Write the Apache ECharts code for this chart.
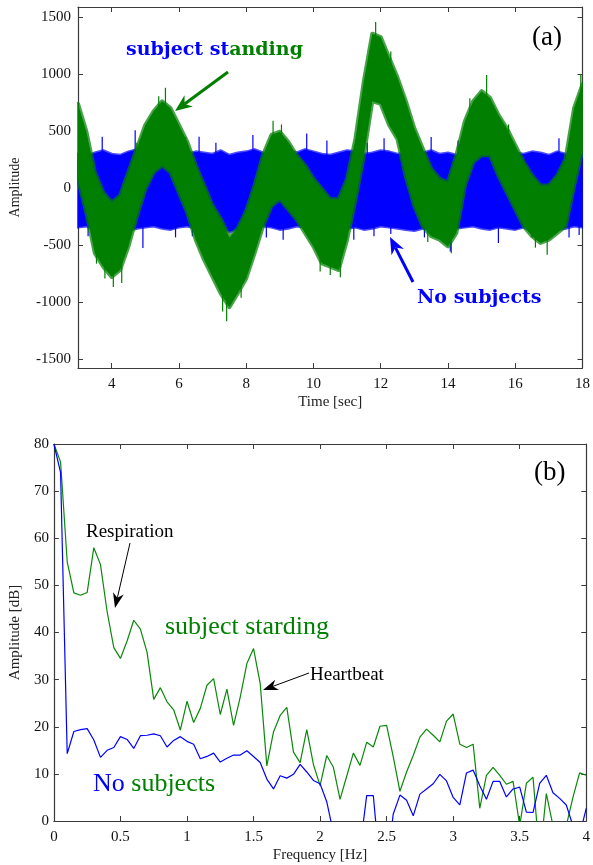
<!DOCTYPE html>
<html>
<head>
<meta charset="utf-8">
<script src="https://cdn.jsdelivr.net/npm/echarts@6/dist/echarts.min.js"></script>
<style>
  html, body { margin: 0; padding: 0; background: #fff; }
  #main { width: 593px; height: 865px; }
</style>
</head>
<body>
<div id="main"></div>
<script>
// (a) time signal, envelopes every 0.25 s
var timeSec = [3, 3.25, 3.5, 3.75, 4, 4.25, 4.5, 4.75, 5, 5.25, 5.5, 5.75, 6, 6.25, 6.5, 6.75, 7, 7.25, 7.5, 7.75,
  8, 8.25, 8.5, 8.75, 9, 9.25, 9.5, 9.75, 10, 10.25, 10.5, 10.75, 11, 11.25, 11.5, 11.75, 12, 12.25, 12.5, 12.75,
  13, 13.25, 13.5, 13.75, 14, 14.25, 14.5, 14.75, 15, 15.25, 15.5, 15.75, 16, 16.25, 16.5, 16.75, 17, 17.25, 17.5, 17.75, 18]
var greenUpper = [740, 497, 142, -36, -124, -65, 142, 349, 556, 675, 763, 704, 556, 408, 201, 24, -154, -272, -430, -350,
  -200, 24, 290, 468, 497, 408, 290, 201, 83, -6, -95, -95, 83, 438, 941, 1356, 1326, 1148, 971, 763,
  527, 349, 172, 83, 53, 290, 586, 763, 852, 793, 645, 527, 379, 231, 112, 24, 24, 112, 260, 704, 912]
var greenLower = [80, -213, -568, -687, -776, -716, -509, -243, -6, 142, 201, 142, -36, -213, -450, -627, -776, -924, -1042, -920,
  -790, -568, -331, -154, -95, -183, -272, -391, -509, -657, -687, -716, -450, -95, 290, 764, 740, 556, 430, 100,
  -154, -331, -420, -450, -509, -391, 24, 231, 290, 290, 112, -36, -183, -331, -420, -479, -450, -391, -331, 24, 349]
var blueUpper = [300, 280, 310, 330, 300, 290, 320, 340, 310, 300, 290, 320, 330, 300, 320, 310, 300, 330, 290, 310,
  320, 340, 310, 300, 320, 330, 310, 340, 320, 300, 290, 310, 330, 320, 300, 310, 330, 320, 300, 310,
  290, 310, 330, 300, 310, 290, 300, 320, 310, 300, 320, 330, 310, 300, 320, 310, 290, 320, 300, 310, 300]
var blueLower = [-340, -330, -360, -350, -330, -340, -370, -350, -340, -330, -350, -360, -340, -330, -350, -370, -360, -340, -380, -360,
  -340, -350, -330, -340, -360, -350, -330, -340, -350, -360, -340, -330, -350, -340, -360, -350, -330, -340, -350, -360,
  -370, -350, -360, -380, -370, -350, -340, -330, -350, -360, -340, -350, -360, -340, -370, -350, -340, -360, -350, -330, -340]
// single noise spikes sticking out of the bands (time, start inside band, tip)
var greenSpikeT = [5.4, 5.6, 8.8, 9.05, 11.85, 12.3, 14.65, 15.15, 17.95, 4.75, 6.2, 15.8,
  3.8, 4.05, 4.3, 3.55, 7.3, 7.42, 7.85, 10.2, 10.5, 10.8, 13.4, 14.1, 16.6, 16.95]
var greenSpikeFrom = [680, 700, 420, 430, 1280, 1060, 640, 780, 820, 300, 380, 480,
  -650, -700, -650, -560, -880, -950, -800, -580, -640, -620, -360, -420, -400, -400]
var greenSpikeTo = [808, 882, 592, 560, 1459, 1200, 790, 994, 1000, 400, 450, 560,
  -790, -864, -830, -660, -1080, -1166, -960, -730, -760, -780, -470, -568, -520, -583]
var blueSpikeT = [3.72, 4.7, 4.85, 5.1, 6.1, 6.6, 7.1, 8.2, 9.3, 9.8, 10.4, 11.6, 12.1, 13.0, 13.5, 14.3, 15.9, 17.3,
  3.3, 4.93, 5.9, 6.4, 7.8, 8.6, 9.1, 10.1, 11.2, 11.8, 12.3, 13.3, 14.07, 15.5, 16.5, 17.6, 17.9]
var blueSpikeFrom = [280, 280, 280, 280, 280, 280, 280, 280, 280, 280, 280, 280, 280, 280, 280, 280, 280, 280,
  -320, -320, -320, -320, -320, -320, -320, -320, -320, -320, -320, -320, -320, -320, -320, -320, -320]
var blueSpikeTo = [453, 510, 430, 400, 390, 453, 400, 468, 380, 482, 420, 400, 440, 390, 450, 420, 400, 440,
  -420, -524, -430, -420, -440, -430, -450, -420, -450, -420, -400, -430, -553, -479, -430, -430, -410]
var timeTicks = [4, 6, 8, 10, 12, 14, 16, 18]
var ampTicks = [-1500, -1000, -500, 0, 500, 1000, 1500]

// (b) spectrum
var freqHz = [0, 0.05, 0.1, 0.15, 0.2, 0.25, 0.3, 0.35, 0.4, 0.45, 0.5, 0.55, 0.6, 0.65, 0.7, 0.75, 0.8, 0.85, 0.9, 0.95,
  1, 1.05, 1.1, 1.15, 1.2, 1.25, 1.3, 1.35, 1.4, 1.45, 1.5, 1.55, 1.6, 1.65, 1.7, 1.75, 1.8, 1.85, 1.9, 1.95,
  2, 2.05, 2.1, 2.15, 2.2, 2.25, 2.3, 2.35, 2.4, 2.45, 2.5, 2.55, 2.6, 2.65, 2.7, 2.75, 2.8, 2.85, 2.9, 2.95,
  3, 3.05, 3.1, 3.15, 3.2, 3.25, 3.3, 3.35, 3.4, 3.45, 3.5, 3.55, 3.6, 3.65, 3.7, 3.75, 3.8, 3.85, 3.9, 3.95, 4]
var standingDb = [80, 76.2, 55, 48.4, 47.9, 48.5, 58, 54.4, 44.4, 36.8, 34.5, 38.2, 42.6, 40.7, 35.8, 25.8, 28.3, 25.3, 23.6, 19.3,
  25.4, 20.9, 23.9, 28.8, 30.2, 22.6, 28, 20.3, 26.3, 33.4, 36.6, 29.2, 11.7, 18.9, 22.4, 24.1, 14.6, 12.4, 19.4, 12,
  7.5, 13.9, 11.4, 4.6, 9.5, 14.4, 11.8, 16.7, 15.7, 20.1, 20.3, 13.6, 6.3, 10.4, 13.9, 17.8, 19.5, 18.2, 16.8, 21.2,
  22.7, 16.3, 15.6, 16.3, 2.7, 9.7, 11.4, 9.7, 7.8, 8.4, -1, 8, 9.3, -8, 5.8, -1, -6, -1, 5, 10.2, 9.7]
var emptyDb = [80, 74, 14.3, 19, 19.4, 19.6, 17.2, 13.5, 15, 15.6, 17.9, 17.3, 15.4, 18.1, 18.2, 18.5, 18.1, 15.7, 17.1, 17.9,
  16.9, 16.3, 13.2, 13.7, 14.4, 12.5, 13.3, 14, 14, 14.9, 13.7, 12.4, 8.9, 6.8, 9.6, 9.1, 9.9, 12, 10.4, 8.6,
  7.9, 4.1, -2.5, -8, -12, -10, -6, 5.4, 5.4, -10, -10, 1.5, 5.5, 4.4, 1.1, 5.7, 6.8, 7.9, 9.9, 8.5,
  5, 3.4, 10.2, 10.8, 7.5, 4.6, 8.4, 8.4, 5.1, 6.8, 7.2, 1.9, 1.8, 8, 9.7, 6, 4.8, 3.4, -1, -3, 2.7]

var GREEN = '#007f00'
var BLUE = '#0000ff'
var SERIF = '"Liberation Serif", "Times New Roman", serif'
var AXIS = '#3a3a3a'

var chart = echarts.init(document.getElementById('main'))

function zip (a, b) {
  return a.map(function (v, i) { return [v, b[i]] })
}

function bandSeries (idx, ts, up, low, color, edge, edgeWidth) {
  return {
    type: 'custom',
    xAxisIndex: idx,
    yAxisIndex: idx,
    silent: true,
    clip: true,
    data: [[ts[0], up[0]]],
    renderItem: function (params, api) {
      var pts = []
      for (var i = 0; i < ts.length; i++) pts.push(api.coord([ts[i], up[i]]))
      for (var j = ts.length - 1; j >= 0; j--) pts.push(api.coord([ts[j], low[j]]))
      return {
        type: 'polygon',
        shape: { points: pts },
        style: { fill: color, stroke: edge, lineWidth: edgeWidth, lineJoin: 'round' }
      }
    }
  }
}

function spikeSeries (idx, ts, from, to, color) {
  return {
    type: 'custom',
    xAxisIndex: idx,
    yAxisIndex: idx,
    silent: true,
    clip: true,
    encode: { x: 0, y: [1, 2] },
    data: ts.map(function (t, i) { return [t, from[i], to[i]] }),
    renderItem: function (params, api) {
      var a = api.coord([api.value(0), api.value(1)])
      var b = api.coord([api.value(0), api.value(2)])
      return { type: 'line', shape: { x1: a[0], y1: a[1], x2: b[0], y2: b[1] }, style: { stroke: color, lineWidth: 1.2 } }
    }
  }
}

// annotation arrow, pixel coords of tail and tip
function arrow (x1, y1, x2, y2, color, w, len, half) {
  var dx = x2 - x1
  var dy = y2 - y1
  var d = Math.sqrt(dx * dx + dy * dy)
  var ux = dx / d
  var uy = dy / d
  var bx = x2 - ux * len
  var by = y2 - uy * len
  var nx = x2 - ux * len * 0.7
  var ny = y2 - uy * len * 0.7
  return [
    { type: 'line', shape: { x1: x1, y1: y1, x2: nx, y2: ny }, style: { stroke: color, lineWidth: w } },
    {
      type: 'polygon',
      shape: { points: [[x2, y2], [bx - uy * half, by + ux * half], [nx, ny], [bx + uy * half, by - ux * half]] },
      style: { fill: color }
    }
  ]
}

function label (text, x, y, size, color, weight, family) {
  return {
    type: 'text',
    x: x,
    y: y,
    style: {
      text: text,
      fill: color,
      font: (weight || 'normal') + ' ' + size + 'px ' + (family || SERIF),
      align: 'left',
      verticalAlign: 'middle'
    }
  }
}

var tickStyle = { inside: true, length: 5, lineStyle: { color: AXIS } }
var lineStyle = { show: true, onZero: false, lineStyle: { color: AXIS, width: 1.2 } }
var labStyle = { color: '#111', fontFamily: SERIF, fontSize: 15 }
var plain = function (v) { return String(v) }

var graphics = []
  .concat(arrow(228, 72, 175, 111, GREEN, 3, 17, 7))
  .concat(arrow(413, 282, 390, 237, BLUE, 3, 17, 7))
  .concat(arrow(130, 543, 115, 608, '#000', 1, 15, 5.5))
  .concat(arrow(309, 673, 263, 690, '#000', 1, 15, 5.5))
  .concat([
    {
      type: 'text',
      x: 126,
      y: 50,
      style: {
        text: '{b|subject st}{g|anding}',
        align: 'left',
        verticalAlign: 'middle',
        rich: {
          b: { fill: BLUE, color: BLUE, font: 'bold 19px "DejaVu Serif", serif' },
          g: { fill: GREEN, color: GREEN, font: 'bold 19px "DejaVu Serif", serif' }
        }
      }
    },
    label('No subjects', 417, 298, 19, BLUE, 'bold', '"DejaVu Serif", serif'),
    label('(a)', 532, 38, 27, '#000'),
    label('(b)', 534, 473, 27, '#000'),
    label('Respiration', 86, 532, 19, '#000'),
    label('subject starding', 165, 627, 26, '#008000'),
    label('Heartbeat', 310, 675, 19, '#000'),
    {
      type: 'text',
      x: 93,
      y: 784,
      style: {
        text: '{b|No} {g|subjects}',
        align: 'left',
        verticalAlign: 'middle',
        font: '26px ' + SERIF,
        rich: {
          b: { fill: BLUE, color: BLUE, font: '26px ' + SERIF },
          g: { fill: '#008000', color: '#008000', font: '26px ' + SERIF }
        }
      }
    }
  ])

var option = {
  backgroundColor: '#fff',
  animation: false,
  grid: [
    { left: 75, top: 7, width: 510, height: 361, containLabel: false },
    { left: 53, top: 444, width: 535, height: 377, containLabel: false }
  ],
  xAxis: [
    {
      type: 'value', gridIndex: 0, min: 3, max: 18,
      name: 'Time [sec]', nameLocation: 'middle', nameGap: 27,
      nameTextStyle: { fontFamily: SERIF, fontSize: 15, color: '#222' },
      axisLine: lineStyle,
      axisTick: Object.assign({ customValues: timeTicks }, tickStyle),
      axisLabel: Object.assign({ customValues: timeTicks, margin: 9, formatter: plain }, labStyle),
      splitLine: { show: false }
    },
    {
      type: 'value', gridIndex: 1, min: 0, max: 4, interval: 0.5,
      name: 'Frequency [Hz]', nameLocation: 'middle', nameGap: 27,
      nameTextStyle: { fontFamily: SERIF, fontSize: 15, color: '#222' },
      axisLine: lineStyle,
      axisTick: tickStyle,
      axisLabel: Object.assign({ margin: 9, formatter: plain }, labStyle),
      splitLine: { show: false }
    },
    {
      type: 'value', gridIndex: 0, position: 'top', min: 3, max: 18,
      axisLine: lineStyle, axisTick: Object.assign({ customValues: timeTicks }, tickStyle),
      axisLabel: { show: false }, splitLine: { show: false }
    },
    {
      type: 'value', gridIndex: 1, position: 'top', min: 0, max: 4, interval: 0.5,
      axisLine: lineStyle, axisTick: tickStyle,
      axisLabel: { show: false }, splitLine: { show: false }
    }
  ],
  yAxis: [
    {
      type: 'value', gridIndex: 0, min: -1575, max: 1590,
      name: 'Amplitude', nameLocation: 'middle', nameGap: 56,
      nameTextStyle: { fontFamily: SERIF, fontSize: 14, color: '#222' },
      axisLine: lineStyle,
      axisTick: Object.assign({ customValues: ampTicks }, tickStyle),
      axisLabel: Object.assign({ customValues: ampTicks, margin: 7, formatter: plain }, labStyle),
      splitLine: { show: false }
    },
    {
      type: 'value', gridIndex: 1, min: 0, max: 80, interval: 10,
      name: 'Amplitude [dB]', nameLocation: 'middle', nameGap: 30,
      nameTextStyle: { fontFamily: SERIF, fontSize: 15, color: '#222' },
      axisLine: lineStyle,
      axisTick: tickStyle,
      axisLabel: Object.assign({ margin: 5, formatter: plain }, labStyle),
      splitLine: { show: false }
    },
    {
      type: 'value', gridIndex: 0, position: 'right', min: -1575, max: 1590,
      axisLine: lineStyle, axisTick: Object.assign({ customValues: ampTicks }, tickStyle),
      axisLabel: { show: false }, splitLine: { show: false }
    },
    {
      type: 'value', gridIndex: 1, position: 'right', min: 0, max: 80, interval: 10,
      axisLine: lineStyle, axisTick: tickStyle,
      axisLabel: { show: false }, splitLine: { show: false }
    }
  ],
  series: [
    bandSeries(0, timeSec, blueUpper, blueLower, BLUE, 'rgba(0,0,255,0.7)', 3),
    spikeSeries(0, blueSpikeT, blueSpikeFrom, blueSpikeTo, BLUE),
    bandSeries(0, timeSec, greenUpper, greenLower, GREEN, 'rgba(0,127,0,0.72)', 4),
    spikeSeries(0, greenSpikeT, greenSpikeFrom, greenSpikeTo, GREEN),
    {
      type: 'line', xAxisIndex: 1, yAxisIndex: 1, data: zip(freqHz, standingDb),
      showSymbol: false, clip: true, silent: true,
      lineStyle: { color: '#0a880a', width: 1.2 }
    },
    {
      type: 'line', xAxisIndex: 1, yAxisIndex: 1, data: zip(freqHz, emptyDb),
      showSymbol: false, clip: true, silent: true,
      lineStyle: { color: BLUE, width: 1.2 }
    }
  ],
  graphic: graphics
}

chart.setOption(option)
</script>
</body>
</html>
